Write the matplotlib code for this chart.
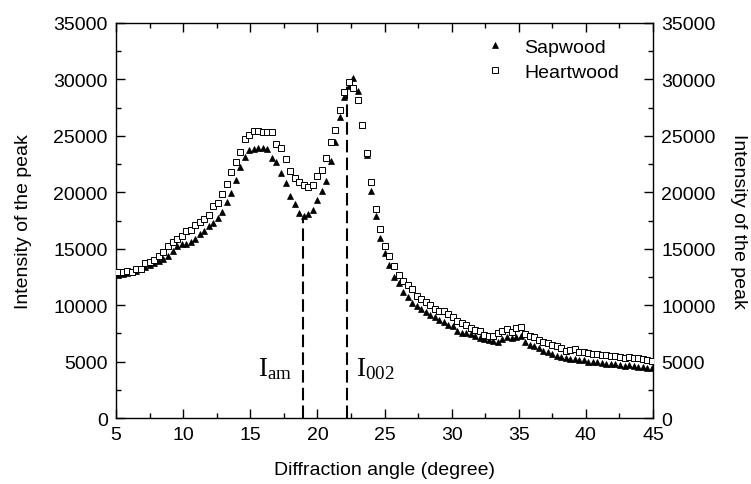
import numpy as np
import matplotlib
matplotlib.use("Agg")
import matplotlib.pyplot as plt
from matplotlib.ticker import MultipleLocator

plt.rcParams['font.family'] = ['Liberation Sans', 'DejaVu Sans']
plt.rcParams['mathtext.fontset'] = 'custom'
plt.rcParams['mathtext.rm'] = 'Liberation Serif'
plt.rcParams['mathtext.it'] = 'Liberation Serif:italic'

# ---- data ----
angle_first = 5.17
angle_last = 44.9

sapwood = [12670, 12750, 12850, 12950, 13050, 13200, 13350, 13550, 13730, 13900,
           14090, 14330, 14830, 15250, 15400, 15450, 15620, 15900, 16300, 16600,
           16980, 17300, 17690, 18230, 19160, 19930, 21110, 22210, 23150, 23770,
           23830, 23890, 23950, 23830, 23010, 22710, 21710, 20820, 19640, 18930,
           18160, 17870, 18100, 18400, 19290, 20110, 21000, 22800, 24430, 26640,
           28410, 29440, 30120, 29000, 25960, 23300, 20140, 17920, 15920, 14590,
           13560, 12470, 11960, 11190, 10690, 10190, 9900, 9660, 9420, 9130,
           8920, 8710, 8480, 8240, 8120, 7730, 7530, 7530, 7440, 7240,
           7060, 7000, 6940, 6850, 6760, 7000, 7150, 7060, 7150, 7290,
           6710, 6470, 6350, 6180, 5960, 5820, 5670, 5520, 5400, 5300,
           5250, 5200, 5150, 5100, 5000, 4950, 4950, 4850, 4800, 4800,
           4750, 4700, 4650, 4700, 4600, 4550, 4500, 4450, 4400]

heartwood = [12910, 12950, 13050, 12960, 13200, 13200, 13730, 13850, 14030, 14380,
             14730, 15210, 15620, 15860, 16150, 16600, 16680, 17100, 17390, 17630,
             17990, 18810, 19050, 19850, 20730, 21820, 22710, 23590, 24720, 25070,
             25400, 25460, 25310, 25310, 25310, 24280, 23890, 22950, 21910, 21240,
             20940, 20640, 20440, 20640, 21410, 22000, 23010, 24480, 25540, 27290,
             28910, 29800, 29210, 28200, 25960, 23450, 20880, 18520, 16750, 15210,
             14330, 13440, 12670, 12170, 11780, 11430, 10780, 10540, 10300, 10010,
             9660, 9510, 9510, 9210, 8920, 8620, 8420, 8240, 7950, 7820,
             7730, 7350, 7290, 7290, 7530, 7730, 7890, 7650, 7950, 8040,
             7440, 7240, 7150, 6940, 6760, 6650, 6470, 6350, 6170, 5960,
             6050, 6110, 5880, 5820, 5760, 5670, 5670, 5580, 5580, 5520,
             5460, 5380, 5290, 5380, 5290, 5290, 5230, 5170, 5080]

angles = np.linspace(angle_first, angle_last, len(sapwood))

i_am_angle = 18.96
i_am_value = 17630
i_002_angle = 22.24
i_002_value = 29450

x_ticks = [5, 10, 15, 20, 25, 30, 35, 40, 45]
y_ticks = [0, 5000, 10000, 15000, 20000, 25000, 30000, 35000]

# ---- figure ----
fig = plt.figure(figsize=(7.51, 4.85), dpi=100)
ax = fig.add_axes([116/751, 1-419/485, (653-116)/751, (419-24)/485])

ax.plot(angles, sapwood, linestyle='none', marker='^', ms=4.6, mfc='black',
        mec='black', mew=0.5, label='Sapwood', zorder=3)
ax.plot(angles, heartwood, linestyle='none', marker='s', ms=3.7, mfc='white',
        mec='black', mew=0.7, label='Heartwood', zorder=4)

ax.plot([i_am_angle, i_am_angle], [0, i_am_value], color='black', lw=1.5,
        linestyle=(0, (6, 2.5)), zorder=2)
ax.plot([i_002_angle, i_002_angle], [0, i_002_value], color='black', lw=1.5,
        linestyle=(0, (6, 2.5)), zorder=2)

ax.text(15.55, 3800, r'$\mathrm{I}_{\mathrm{am}}$', fontsize=19.5, ha='left', va='baseline')
ax.text(22.9, 3800, r'$\mathrm{I}_{\mathrm{002}}$', fontsize=19.5, ha='left', va='baseline')

ax.set_xlim(5, 45)
ax.set_ylim(0, 35000)
ax.set_xticks(x_ticks)
ax.set_yticks(y_ticks)
ax.xaxis.set_minor_locator(MultipleLocator(2.5))
ax.yaxis.set_minor_locator(MultipleLocator(2500))
ax.tick_params(which='both', direction='in', top=True, right=True,
               labelright=True, labelsize=14, width=1.0)
ax.tick_params(which='major', length=6.5, pad=6)
ax.tick_params(which='minor', length=3.5)
for s in ax.spines.values():
    s.set_linewidth(1.0)

ax.set_xlabel('Diffraction angle (degree)', fontsize=14, labelpad=13)
fig.text(24/751, 0.5*((1-419/485) + (1-24/485)), 'Intensity of the peak',
         fontsize=14, rotation=90, ha='center', va='center')
fig.text(738/751, 0.5*((1-419/485) + (1-24/485)), 'Intensity of the peak',
         fontsize=14, rotation=270, ha='center', va='center')

leg = ax.legend(loc='upper right', frameon=False, fontsize=14, numpoints=1,
                handlelength=1.2, handletextpad=0.9, labelspacing=0.38,
                borderaxespad=0.3, bbox_to_anchor=(0.962, 0.995))

fig.savefig('out.png', dpi=100)
